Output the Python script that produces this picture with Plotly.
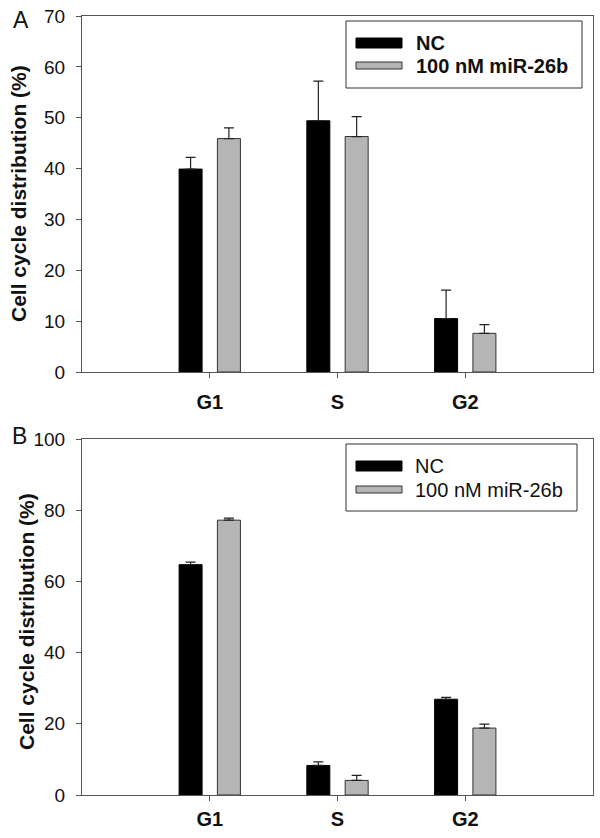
import plotly.graph_objects as go

# ---------------- data ----------------
phases = ["G1", "S", "G2"]
series_names = ["NC", "100 nM miR-26b"]

a_nc = [39.9, 49.4, 10.5]
a_nc_err = [2.3, 7.8, 5.6]
a_mir = [45.9, 46.3, 7.6]
a_mir_err = [2.1, 3.9, 1.7]

b_nc = [64.7, 8.3, 26.9]
b_nc_err = [0.7, 1.0, 0.5]
b_mir = [77.2, 4.1, 18.8]
b_mir_err = [0.6, 1.4, 1.1]

a_yticks = [0, 10, 20, 30, 40, 50, 60, 70]
b_yticks = [0, 20, 40, 60, 80, 100]

# ---------------- style ----------------
W, H = 600, 838
ML, MR, MT, MB = 82, 7, 16, 43
PW = W - ML - MR
PH = H - MT - MB
FONT = "Liberation Sans, Arial, sans-serif"
AXC = "#555555"
GRAY = "#b5b5b5"
BLACK = "#000000"


def px_x(px):
    return (px - ML) / PW


def px_y(py):
    return (H - MB - py) / PH


def err_bar(err):
    return dict(type="data", symmetric=False, array=err, arrayminus=[0] * len(err),
                color="#222222", thickness=1.2, width=5)


fig = go.Figure()
panels = [
    ("x", "y", a_nc, a_nc_err, a_mir, a_mir_err),
    ("x2", "y2", b_nc, b_nc_err, b_mir, b_mir_err),
]
for xa, ya, nc, nce, mir, mire in panels:
    fig.add_trace(go.Bar(x=phases, y=nc, name=series_names[0], xaxis=xa, yaxis=ya,
                         marker=dict(color=BLACK, line=dict(color=BLACK, width=1)),
                         error_y=err_bar(nce), showlegend=False, offsetgroup="nc"))
    fig.add_trace(go.Bar(x=phases, y=mir, name=series_names[1], xaxis=xa, yaxis=ya,
                         marker=dict(color=GRAY, line=dict(color="#333333", width=1)),
                         error_y=err_bar(mire), showlegend=False, offsetgroup="mir"))

axis_common = dict(showline=True, mirror=True, linecolor=AXC, linewidth=1,
                   ticks="outside", ticklen=5, tickcolor=AXC, showgrid=False,
                   zeroline=False)

# panel domains in pixels
A_top, A_bot = 16, 372
B_top, B_bot = 439, 795

fig.update_layout(
    width=W, height=H,
    margin=dict(l=ML, r=MR, t=MT, b=MB),
    paper_bgcolor="white", plot_bgcolor="white",
    barmode="group", bargap=0.4, bargroupgap=0.4,
    font=dict(family=FONT, color="#111111"),
    xaxis=dict(axis_common, domain=[0, 1], anchor="y", range=[-1, 3],
               tickfont=dict(size=20, family=FONT, weight="bold"),
               ticklabelstandoff=7),
    yaxis=dict(axis_common, domain=[px_y(A_bot), px_y(A_top)], anchor="x",
               range=[0, 70], tickvals=a_yticks,
               tickfont=dict(size=19, family=FONT), ticklabelstandoff=7),
    xaxis2=dict(axis_common, domain=[0, 1], anchor="y2", range=[-1, 3],
                tickfont=dict(size=20, family=FONT, weight="bold"),
                ticklabelstandoff=1),
    yaxis2=dict(axis_common, domain=[px_y(B_bot), px_y(B_top)], anchor="x2",
                range=[0, 100], tickvals=b_yticks,
                tickfont=dict(size=19, family=FONT), ticklabelstandoff=7),
)

annotations = []
shapes = []

# y titles and panel letters
annotations.append(dict(text="<b>Cell cycle distribution (%)</b>", xref="paper", yref="paper",
                        x=px_x(19), y=px_y(194), textangle=-90, showarrow=False,
                        font=dict(size=21, family=FONT, color="#111111"),
                        xanchor="center", yanchor="middle"))
annotations.append(dict(text="<b>Cell cycle distribution (%)</b>", xref="paper", yref="paper",
                        x=px_x(26), y=px_y(622), textangle=-90, showarrow=False,
                        font=dict(size=21, family=FONT, color="#111111"),
                        xanchor="center", yanchor="middle"))
annotations.append(dict(text="A", xref="paper", yref="paper", x=px_x(21), y=px_y(20),
                        showarrow=False, font=dict(size=23, family=FONT, color="#111111"),
                        xanchor="center", yanchor="middle"))
annotations.append(dict(text="B", xref="paper", yref="paper", x=px_x(19), y=px_y(436),
                        showarrow=False, font=dict(size=23, family=FONT, color="#111111"),
                        xanchor="center", yanchor="middle"))

# custom legends (pixel layout)
legends = [
    dict(box=(346, 21, 582, 88), sw1=(356, 38, 402, 48), sw2=(356, 62, 402, 69),
         tx=414, ty1=43, ty2=66, bold=True),
    dict(box=(346, 444, 577, 511), sw1=(356, 461, 402, 471), sw2=(356, 486, 402, 493),
         tx=413, ty1=466, ty2=490, bold=False),
]
for lg in legends:
    x0, y0, x1, y1 = lg["box"]
    shapes.append(dict(type="rect", xref="paper", yref="paper",
                       x0=px_x(x0), x1=px_x(x1), y0=px_y(y1), y1=px_y(y0),
                       line=dict(color="#333333", width=1), fillcolor="white", layer="above"))
    for (sx0, sy0, sx1, sy1), col, lc in [(lg["sw1"], BLACK, BLACK), (lg["sw2"], GRAY, "#333333")]:
        shapes.append(dict(type="rect", xref="paper", yref="paper",
                           x0=px_x(sx0), x1=px_x(sx1), y0=px_y(sy1), y1=px_y(sy0),
                           line=dict(color=lc, width=1), fillcolor=col, layer="above"))
    for name, ty in zip(series_names, [lg["ty1"], lg["ty2"]]):
        txt = f"<b>{name}</b>" if lg["bold"] else name
        annotations.append(dict(text=txt, xref="paper", yref="paper",
                                x=px_x(lg["tx"]), y=px_y(ty), showarrow=False,
                                xanchor="left", yanchor="middle",
                                font=dict(size=20, family=FONT, color="#111111")))

fig.update_layout(annotations=annotations, shapes=shapes)

fig.write_html("out.html", config={"displayModeBar": False},
               post_script="document.body.style.margin='0px';document.body.style.overflow='hidden';")
